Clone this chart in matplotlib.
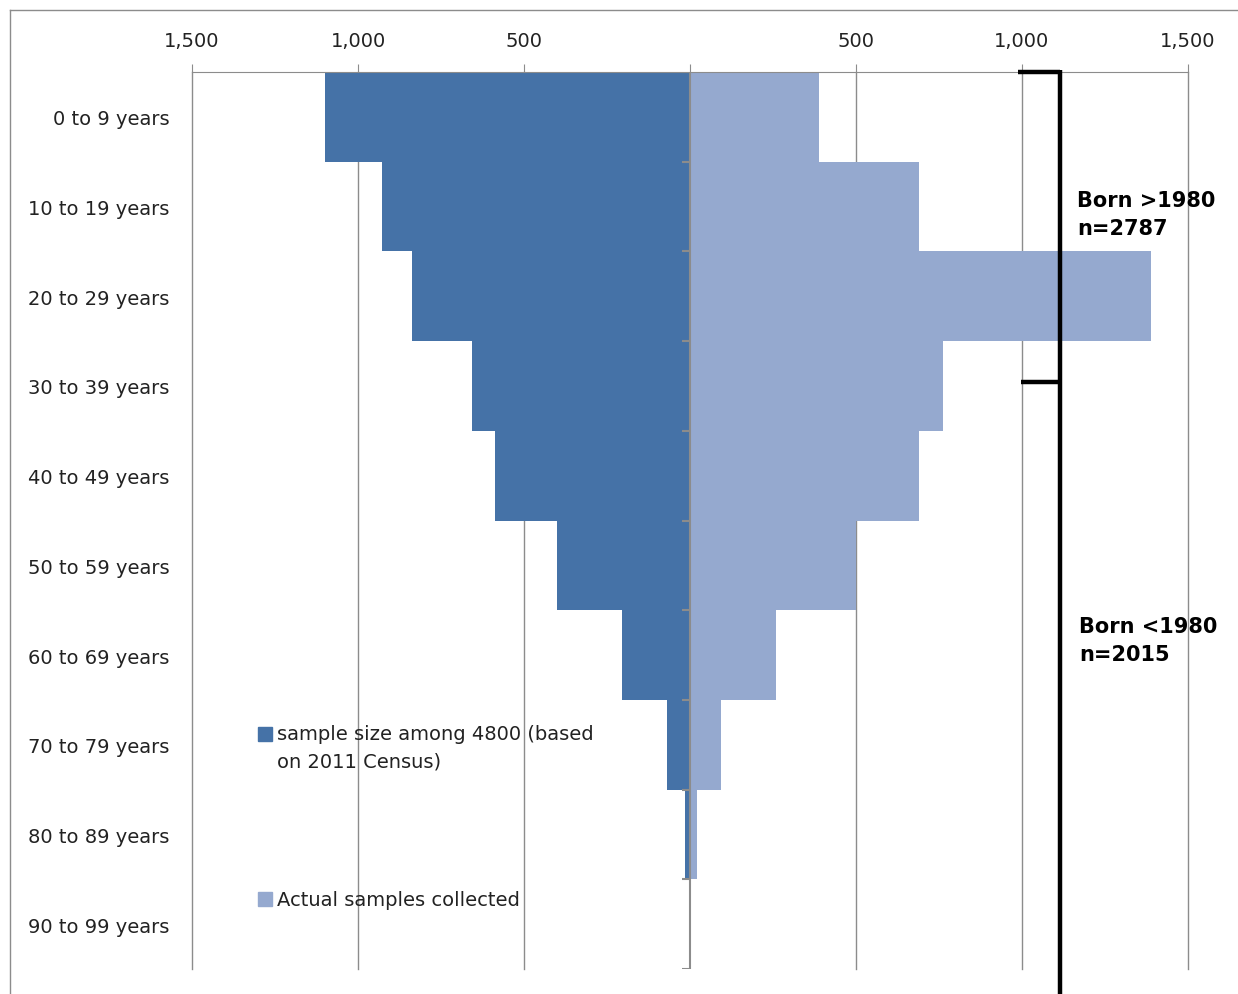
import numpy as np
import matplotlib.pyplot as plt
from matplotlib.patches import Rectangle
from matplotlib.lines import Line2D

# age groups, top to bottom
age_groups = ['0 to 9 years', '10 to 19 years', '20 to 29 years', '30 to 39 years',
              '40 to 49 years', '50 to 59 years', '60 to 69 years', '70 to 79 years',
              '80 to 89 years', '90 to 99 years']
# planned sample size among 4800 (based on 2011 Census), drawn to the left
planned = [1099, 928, 837, 657, 587, 401, 205, 69, 15, 0]
# actual samples collected, drawn to the right
collected = [389, 690, 1389, 762, 690, 500, 259, 93, 21, 0]

tick_values = [-1500, -1000, -500, 0, 500, 1000, 1500]
tick_labels = ['1,500', '1,000', '500', '', '500', '1,000', '1,500']

DARK = '#4572A7'
LIGHT = '#95A9CF'
GRID = '#8C8C8C'
TXT = '#222222'
FS = 14

fig = plt.figure(figsize=(12.38, 9.95), dpi=100)
ax = fig.add_axes([192 / 1238, 25 / 995, 996 / 1238, 897 / 995])

y = np.arange(len(age_groups))
ax.barh(y, -np.array(planned), height=1.0, color=DARK, zorder=2)
ax.barh(y, collected, height=1.0, color=LIGHT, zorder=2)

ax.set_xlim(-1500, 1500)
ax.set_ylim(len(age_groups) - 0.5, -0.5)

# vertical gridlines and the centre axis with its category ticks
for v in tick_values:
    if v != 0:
        ax.axvline(v, color=GRID, lw=1, zorder=1, clip_on=False)
ax.axvline(0, color=GRID, lw=1.5, zorder=3)
ax.hlines(np.arange(len(age_groups) + 1) - 0.5, -24, 0, color=GRID, lw=1.5, zorder=3)

for side in ['left', 'right', 'bottom']:
    ax.spines[side].set_visible(False)
ax.spines['top'].set_color(GRID)

ax.xaxis.tick_top()
ax.set_xticks(tick_values, tick_labels)
ax.tick_params(axis='x', length=6, color=GRID, pad=10, labelsize=FS, labelcolor=TXT)
ax.set_yticks(y, age_groups)
ax.tick_params(axis='y', length=0, pad=16, labelsize=FS, labelcolor=TXT)

# bracket marking the 1980 birth cohort split
kw = dict(color='black', lw=3.2, clip_on=False, solid_capstyle='butt', zorder=4)
ax.plot([988, 1114], [-0.5, -0.5], **kw)
ax.plot([997, 1114], [2.955, 2.955], **kw)
ax.plot([1114, 1114], [-0.52, 10.5], **kw)

ax.text(1166, 0.81, 'Born >1980\nn=2787', fontsize=15, fontweight='bold',
        va='top', ha='left', linespacing=1.55, zorder=5)
ax.text(1172, 5.56, 'Born <1980\nn=2015', fontsize=15, fontweight='bold',
        va='top', ha='left', linespacing=1.55, zorder=5)

# legend entries placed inside the plot
ax.add_patch(Rectangle((-1301, 6.805), 42, 0.156, color=DARK, zorder=5))
ax.text(-1244, 6.77, 'sample size among 4800 (based\non 2011 Census)', fontsize=FS,
        va='top', ha='left', linespacing=1.55, color=TXT, zorder=5)
ax.add_patch(Rectangle((-1301, 8.645), 42, 0.156, color=LIGHT, zorder=5))
ax.text(-1244, 8.72, 'Actual samples collected', fontsize=FS,
        va='center', ha='left', color=TXT, zorder=5)

# outer chart frame (top and left edges)
fx, fy = 9.5 / 1238, 1 - 11 / 995
fig.add_artist(Line2D([fx, 1.0], [fy, fy], transform=fig.transFigure, color=GRID, lw=1))
fig.add_artist(Line2D([fx, fx], [0.0, fy], transform=fig.transFigure, color=GRID, lw=1))

fig.savefig('out.png', dpi=100)
